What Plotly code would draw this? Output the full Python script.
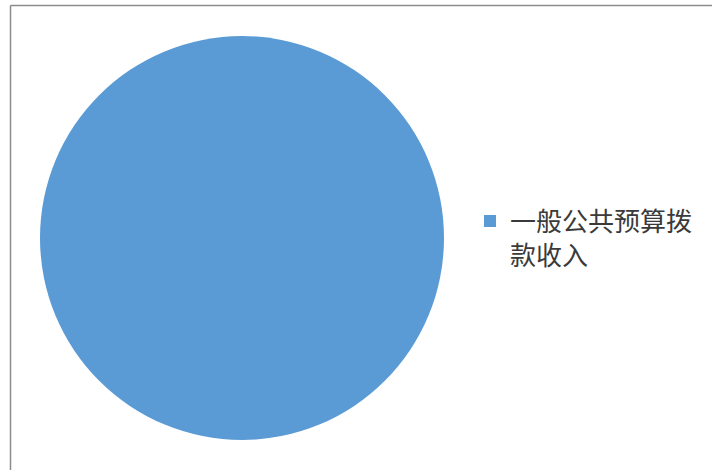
import plotly.graph_objects as go

labels = ["一般公共预算拨<br>款收入"]
values = [100]
colors = ["#5B9BD5"]

W, H = 712, 470
fig = go.Figure()
fig.add_trace(go.Pie(
    labels=labels, values=values,
    marker=dict(colors=colors, line=dict(width=0)),
    textinfo="none", sort=False, hoverinfo="label+percent",
    domain=dict(x=[40 / W, 444 / W], y=[(H - 441) / H, (H - 35) / H]),
))
fig.add_shape(type="line", xref="paper", yref="paper",
              x0=10.5 / W, x1=1.02, y0=1 - 5.5 / H, y1=1 - 5.5 / H,
              line=dict(color="#8c8c8c", width=1.5))
fig.add_shape(type="line", xref="paper", yref="paper",
              x0=10.5 / W, x1=10.5 / W, y0=-0.02, y1=1 - 5.5 / H,
              line=dict(color="#8c8c8c", width=1.5))
fig.update_layout(
    width=W, height=H,
    margin=dict(l=0, r=0, t=0, b=0),
    paper_bgcolor="white", plot_bgcolor="white",
    showlegend=True,
    legend=dict(x=470 / W, y=1 - 238 / H, xanchor="left", yanchor="middle",
                itemwidth=30, valign="top", bgcolor="rgba(0,0,0,0)",
                font=dict(family="Noto Sans CJK SC", size=26, color="#3a3a3a")),
    font=dict(family="Noto Sans CJK SC"),
)
fig.write_html("out.html", config={"displayModeBar": False},
               post_script="document.body.style.margin='0';")
